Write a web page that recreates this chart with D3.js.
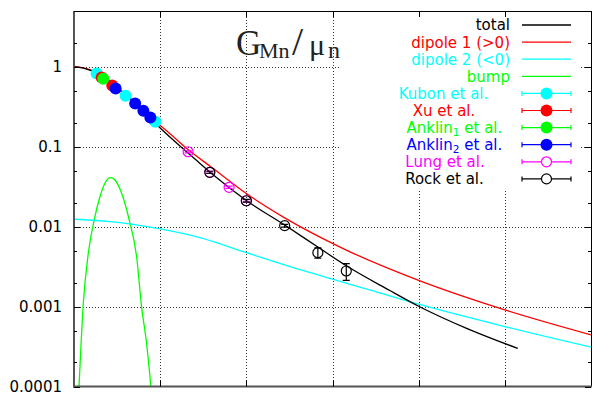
<!DOCTYPE html>
<html><head><meta charset="utf-8">
<script src="https://cdn.jsdelivr.net/npm/d3@7/dist/d3.min.js"></script>
<style>body{margin:0;background:#fff}svg{display:block}</style>
</head><body><svg id="c" width="594" height="394"></svg>
<script>
// ---- data (Q in GeV, G_Mn/mu_n) ----
const totalQ = [0, 0.1, 0.2, 0.3, 0.4, 0.5, 0.6, 0.7, 0.8, 0.9, 1.0, 1.2, 1.4, 1.6, 2.0, 2.45, 2.83, 3.16, 3.66, 4.0, 4.55, 5.15];
const totalG = [1.0, 0.973, 0.896, 0.788, 0.666, 0.547, 0.44, 0.35, 0.277, 0.218, 0.172, 0.109, 0.0707, 0.046, 0.0213, 0.0104, 0.00556, 0.00324, 0.0016, 0.00101, 0.000537, 0.000299];
const dip1Q = [0, 0.2, 0.4, 0.6, 0.8, 1.0, 1.11, 1.32, 1.6, 2.0, 2.45, 3.16, 4.0, 5.0, 6.0];
const dip1G = [1.012, 0.908, 0.68, 0.453, 0.29, 0.184, 0.147, 0.093, 0.055, 0.026, 0.0128, 0.0051, 0.00213, 0.00091, 0.000443];
const dip2Q = [0, 0.42, 1.0, 1.46, 2.0, 2.5, 3.0, 3.43, 4.0, 5.0, 6.0];
const dip2G = [0.01238, 0.01155, 0.00936, 0.00729, 0.00473, 0.00318, 0.0022, 0.00162, 0.00107, 0.000562, 0.000311];
const bumpQ = [0.04, 0.058, 0.108, 0.166, 0.243, 0.301, 0.359, 0.425, 0.475, 0.553, 0.641, 0.727, 0.784, 0.842, 0.892, 0.91];
const bumpG = [0.00004, 0.0001, 0.0011, 0.00465, 0.01334, 0.0237, 0.0349, 0.041, 0.0384, 0.0262, 0.0121, 0.0042, 0.001, 0.00035, 0.0001, 0.00006];

const kubonQ = [0.263, 0.599, 0.944], kubonG = [0.827, 0.434, 0.205];
const xuQ = [0.321, 0.444], xuG = [0.737, 0.583];
const anklin1Q = [0.340], anklin1G = [0.708];
const anklin2Q = [0.483, 0.710, 0.805, 0.886], anklin2G = [0.537, 0.349, 0.282, 0.233];
const lungQ = [1.324, 1.576, 1.80, 2.0], lungG = [0.0866, 0.0479, 0.0311, 0.0211], lungErr = [0.0025, 0.0015, 0.001, 0.0007];
const rockQ = [1.576, 2.0, 2.445, 2.83, 3.16], rockG = [0.0479, 0.0211, 0.0103, 0.00473, 0.00279], rockErr = [0.0015, 0.0008, 0.0004, 0.0007, 0.00066];

const yTicks = [0.0001, 0.001, 0.01, 0.1, 1];
const yTickLabels = ["0.0001", "0.001", "0.01", "0.1", "1"];
const xTicks = [0, 1, 2, 3, 4, 5, 6];

const lineSeries = [
  {name: "total", q: totalQ, g: totalG, color: "#000000"},
  {name: "dipole 1 (>0)", q: dip1Q, g: dip1G, color: "#ff0000"},
  {name: "dipole 2 (<0)", q: dip2Q, g: dip2G, color: "#00ffff"},
  {name: "bump", q: bumpQ, g: bumpG, color: "#00ff00"}
];
const pointSeries = [
  {name: "Kubon et al.", q: kubonQ, g: kubonG, err: null, color: "#00ffff", fill: true},
  {name: "Xu et al.", q: xuQ, g: xuG, err: null, color: "#ff0000", fill: true},
  {name: "Anklin|1| et al.", q: anklin1Q, g: anklin1G, err: null, color: "#00ff00", fill: true},
  {name: "Anklin|2| et al.", q: anklin2Q, g: anklin2G, err: null, color: "#0000ff", fill: true},
  {name: "Lung et al.", q: lungQ, g: lungG, err: lungErr, color: "#ff00ff", fill: false},
  {name: "Rock et al.", q: rockQ, g: rockG, err: rockErr, color: "#000000", fill: false}
];

// ---- layout ----
const L = 74, R = 591, T = 11, B = 386.5;
const svg = d3.select("#c");
const x = d3.scaleLinear().domain([0, 6]).range([L, R]);
const y = d3.scaleLog().domain([0.0001, 5]).range([B, T]);
const FONT = "DejaVu Sans, Liberation Sans, sans-serif";

svg.append("defs").append("clipPath").attr("id", "clip")
  .append("rect").attr("x", L).attr("y", T).attr("width", R - L).attr("height", B - T);

// grid
const grid = svg.append("g").attr("stroke", "#333").attr("stroke-width", 1).attr("stroke-dasharray", "1,2");
grid.selectAll("line.gx").data(xTicks.slice(1, -1)).join("line")
  .attr("x1", d => Math.round(x(d)) + 0.5).attr("x2", d => Math.round(x(d)) + 0.5)
  .attr("y1", T).attr("y2", B);
grid.selectAll("line.gy").data(yTicks.slice(1)).join("line")
  .attr("y1", d => Math.round(y(d)) + 0.5).attr("y2", d => Math.round(y(d)) + 0.5)
  .attr("x1", L).attr("x2", R);

// legend box (opaque)
svg.append("rect").attr("x", 340).attr("y", 15).attr("width", 241).attr("height", 174).attr("fill", "#fff");

// title
const title = svg.append("text").attr("y", 55)
  .attr("font-family", "Liberation Serif, serif").attr("fill", "#222");
title.append("tspan").attr("x", 236).attr("font-size", 35).text("G");
title.append("tspan").attr("x", 259).attr("font-size", 22).attr("dy", 3).text("Mn");
title.append("tspan").attr("x", 292).attr("font-size", 40).attr("dy", -3).text("/");
title.append("tspan").attr("x", 309).attr("font-size", 30).text("μ");
title.append("tspan").attr("x", 328).attr("font-size", 24).attr("dy", 3).text("n");

// curves
const line = d3.line().x(d => x(d[0])).y(d => y(d[1])).curve(d3.curveMonotoneX);
const plot = svg.append("g").attr("clip-path", "url(#clip)");
[lineSeries[3], lineSeries[2], lineSeries[1], lineSeries[0]].forEach(s => {
  plot.append("path").datum(d3.zip(s.q, s.g)).attr("d", line)
    .attr("fill", "none").attr("stroke", s.color).attr("stroke-width", 1.3);
});

// points
pointSeries.forEach(s => {
  const g = plot.append("g");
  const pts = s.q.map((q, i) => ({q, v: s.g[i], e: s.err ? s.err[i] : 0}));
  const eb = pts.filter(p => p.e > 0);
  g.selectAll("line.e").data(eb).join("line")
    .attr("x1", p => x(p.q)).attr("x2", p => x(p.q))
    .attr("y1", p => y(p.v + p.e)).attr("y2", p => y(p.v - p.e))
    .attr("stroke", s.color).attr("stroke-width", 1.2);
  ["+", "-"].forEach(sg => {
    g.selectAll("line.c" + (sg === "+" ? "p" : "m")).data(eb).join("line")
      .attr("x1", p => x(p.q) - 3.5).attr("x2", p => x(p.q) + 3.5)
      .attr("y1", p => y(sg === "+" ? p.v + p.e : p.v - p.e))
      .attr("y2", p => y(sg === "+" ? p.v + p.e : p.v - p.e))
      .attr("stroke", s.color).attr("stroke-width", 1.2);
  });
  g.selectAll("circle").data(pts).join("circle")
    .attr("cx", p => x(p.q)).attr("cy", p => y(p.v))
    .attr("r", s.fill ? 6 : 5)
    .attr("fill", s.fill ? s.color : "none")
    .attr("stroke", s.color).attr("stroke-width", s.fill ? 0 : 1.2);
});

// borders
svg.append("line").attr("x1", L).attr("x2", R).attr("y1", T + 0.5).attr("y2", T + 0.5).attr("stroke", "#000").attr("stroke-width", 1);
svg.append("line").attr("x1", R + 0.5).attr("x2", R + 0.5).attr("y1", T).attr("y2", B).attr("stroke", "#000").attr("stroke-width", 1);
svg.append("line").attr("x1", L).attr("x2", L).attr("y1", T).attr("y2", B + 1).attr("stroke", "#555").attr("stroke-width", 2);
svg.append("line").attr("x1", L - 1).attr("x2", R + 1).attr("y1", B).attr("y2", B).attr("stroke", "#555").attr("stroke-width", 2);

// ticks
const minorY = [];
for (let e = -4; e <= 0; e++) [2, 5].forEach(m => { const v = m * Math.pow(10, e); if (v <= 5) minorY.push(v); });
const tk = svg.append("g").attr("stroke", "#000").attr("stroke-width", 1);
yTicks.forEach(v => {
  const yy = Math.round(y(v)) + 0.5;
  tk.append("line").attr("x1", L).attr("x2", L + 6).attr("y1", yy).attr("y2", yy);
  tk.append("line").attr("x1", R).attr("x2", R - 6).attr("y1", yy).attr("y2", yy);
});
minorY.forEach(v => {
  const yy = Math.round(y(v)) + 0.5;
  tk.append("line").attr("x1", L).attr("x2", L + 3).attr("y1", yy).attr("y2", yy);
  tk.append("line").attr("x1", R).attr("x2", R - 3).attr("y1", yy).attr("y2", yy);
});
xTicks.slice(1, -1).forEach(v => {
  const xx = Math.round(x(v)) + 0.5;
  tk.append("line").attr("x1", xx).attr("x2", xx).attr("y1", B).attr("y2", B - 6);
  tk.append("line").attr("x1", xx).attr("x2", xx).attr("y1", T).attr("y2", T + 6);
});

// y tick labels
svg.append("g").selectAll("text").data(yTicks).join("text")
  .attr("x", 62).attr("y", d => y(d)).attr("dy", "0.34em")
  .attr("text-anchor", "end").attr("font-family", FONT).attr("font-size", 15).attr("fill", "#000")
  .text((d, i) => yTickLabels[i]);

// legend
const leg = svg.append("g").attr("font-family", FONT).attr("font-size", 15);
const rowY = i => 25 + i * 17.1;
const sx1 = 522, sx2 = 571, sxm = 546.5;
lineSeries.forEach((s, i) => {
  leg.append("text").attr("x", 510).attr("y", rowY(i)).attr("dy", "0.36em")
    .attr("text-anchor", "end").attr("fill", s.color).text(s.name);
  leg.append("line").attr("x1", sx1).attr("x2", sx2).attr("y1", rowY(i)).attr("y2", rowY(i))
    .attr("stroke", s.color).attr("stroke-width", 1.3);
});
const legTextX = [443.5, 444, 406.5, 406.5, 445, 444.5];
pointSeries.forEach((s, j) => {
  const i = j + 4, yy = rowY(i);
  const t = leg.append("text").attr("y", yy).attr("dy", "0.36em").attr("fill", s.color).attr("x", legTextX[j]);
  const parts = s.name.split("|");
  if (parts.length === 3) {
    t.attr("text-anchor", "start");
    t.append("tspan").text(parts[0]);
    t.append("tspan").attr("font-size", 10.5).attr("dy", 2.5).text(parts[1]);
    t.append("tspan").attr("dy", -2.5).text(parts[2]);
  } else {
    t.attr("text-anchor", "middle").text(s.name);
  }
  leg.append("line").attr("x1", sx1).attr("x2", sx2).attr("y1", yy).attr("y2", yy).attr("stroke", s.color).attr("stroke-width", 1.2);
  [sx1, sx2].forEach(cx => leg.append("line").attr("x1", cx).attr("x2", cx).attr("y1", yy - 2.5).attr("y2", yy + 2.5).attr("stroke", s.color).attr("stroke-width", 1.2));
  leg.append("circle").attr("cx", sxm).attr("cy", yy).attr("r", s.fill ? 6 : 5)
    .attr("fill", s.fill ? s.color : "#fff").attr("stroke", s.color).attr("stroke-width", s.fill ? 0 : 1.2);
});
</script></body></html>
